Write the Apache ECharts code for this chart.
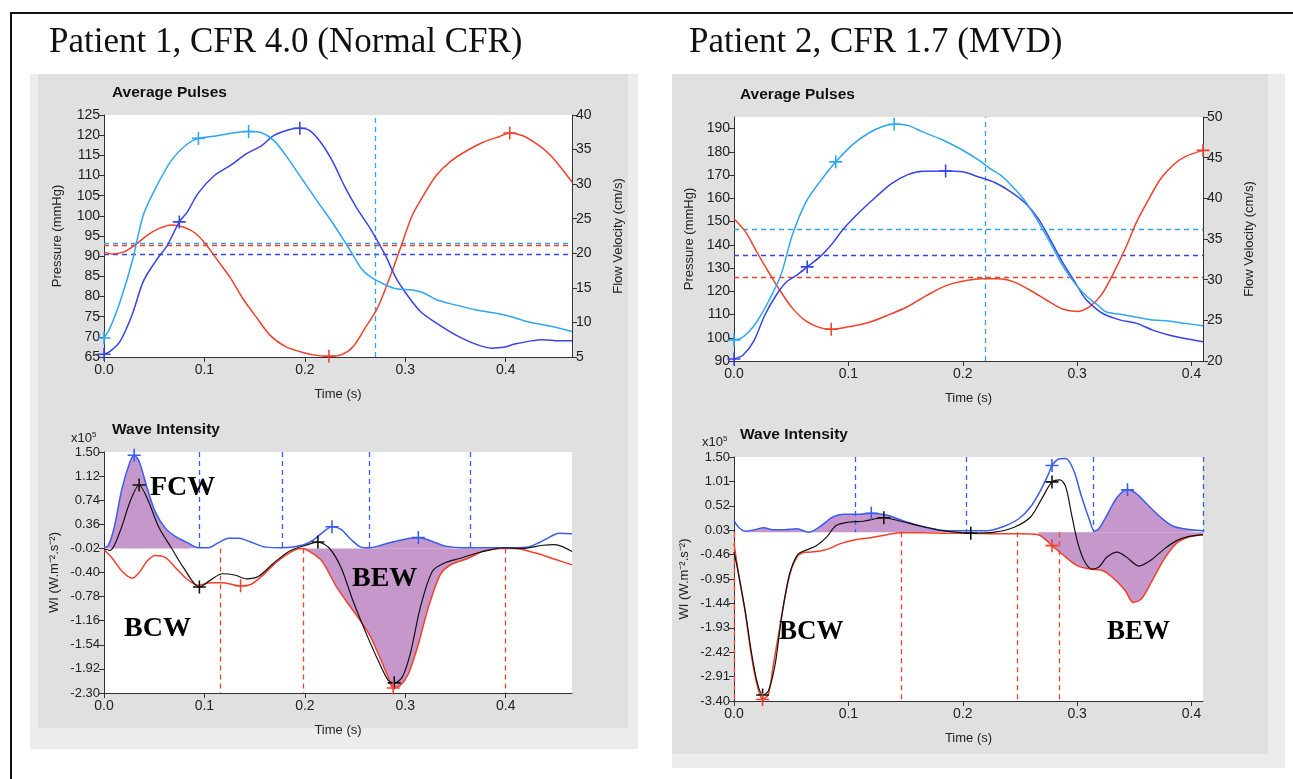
<!DOCTYPE html>
<html><head><meta charset="utf-8">
<script src="https://cdn.jsdelivr.net/npm/echarts@6/dist/echarts.min.js"></script>
<style>html,body{margin:0;padding:0;background:#fff}#c{width:1293px;height:779px}</style>
</head><body><div id="c"></div>
<script>
// ---------- Patient 1, Average Pulses (time s, value) ----------
const p1LightBlue = [[0,69.7],[0.006,72.2],[0.016,78.7],[0.028,88.6],[0.039,100.1],[0.051,106.7],[0.067,113.7],[0.083,117.8],[0.094,119.2],[0.114,119.9],[0.130,120.6],[0.144,120.9],[0.157,120.6],[0.169,118.7],[0.181,115],[0.197,109.2],[0.213,103.4],[0.228,98.1],[0.244,91.9],[0.256,87],[0.265,84.9],[0.280,82.9],[0.291,81.9],[0.307,81.6],[0.319,80.8],[0.331,79.2],[0.350,77.9],[0.370,76.7],[0.398,75.5],[0.421,73.8],[0.445,72.6],[0.466,71.3]];
const p1DarkBlue = [[0,65.7],[0.006,66.4],[0.016,68.9],[0.028,75.5],[0.039,83.7],[0.051,88.6],[0.063,92.7],[0.075,98.5],[0.083,101],[0.094,105.7],[0.110,110],[0.126,112.5],[0.142,115.4],[0.157,117.4],[0.169,119.9],[0.185,121.4],[0.195,121.7],[0.205,121.1],[0.217,117.8],[0.228,113.3],[0.240,107.1],[0.252,101.8],[0.265,96.9],[0.280,90.3],[0.291,84.5],[0.303,80],[0.315,76.3],[0.331,73.4],[0.350,70.5],[0.370,68.2],[0.386,67.2],[0.398,67.4],[0.409,68.2],[0.425,69.0],[0.437,69.3],[0.453,69.0],[0.466,69.0]];
const p1Red = [[0,20.2],[0.008,19.9],[0.020,20.2],[0.031,21.2],[0.043,22.6],[0.055,23.6],[0.067,24.1],[0.079,23.8],[0.091,22.9],[0.102,21.2],[0.114,18.8],[0.126,16.4],[0.138,13.5],[0.150,11.1],[0.165,8.2],[0.181,6.5],[0.197,5.7],[0.213,5.2],[0.224,5.1],[0.236,5.3],[0.248,6.5],[0.260,9.2],[0.272,12.0],[0.283,15.9],[0.295,20.7],[0.307,25.5],[0.319,28.6],[0.331,31.3],[0.346,33.4],[0.362,34.9],[0.378,36.1],[0.394,36.9],[0.404,37.4],[0.417,37.0],[0.433,35.6],[0.445,34.1],[0.457,32.0],[0.466,30.3]];
const p1LightBlueMarks = [[0,69.7],[0.094,119.2],[0.144,120.9]];
const p1DarkBlueMarks = [[0,65.7],[0.075,98.5],[0.195,121.7]];
const p1RedMarks = [[0.224,5.1],[0.404,37.4]];
const p1Means = {lightBlue:93.3, darkBlue:90.4, red:21.1};
const p1PulseCursor = 0.265;
const p1PressureTicks = [65,70,75,80,85,90,95,100,105,110,115,120,125];
const p1FlowTicks = [5,10,15,20,25,30,35,40];

// ---------- Patient 1, Wave Intensity (x10^5) ----------
const p1WiBlue = [[0,-0.01],[0.004,0.02],[0.010,0.30],[0.018,0.93],[0.026,1.35],[0.030,1.45],[0.035,1.35],[0.043,0.93],[0.051,0.56],[0.061,0.30],[0.071,0.17],[0.083,0.07],[0.094,-0.01],[0.104,-0.01],[0.114,0.07],[0.124,0.14],[0.134,0.14],[0.146,0.08],[0.161,0.0],[0.177,-0.01],[0.197,0.03],[0.209,0.12],[0.219,0.25],[0.227,0.32],[0.236,0.28],[0.246,0.12],[0.256,0.0],[0.264,-0.01],[0.280,0.05],[0.295,0.11],[0.313,0.15],[0.327,0.09],[0.339,0.02],[0.358,-0.01],[0.378,-0.01],[0.398,-0.01],[0.421,0.0],[0.433,0.07],[0.445,0.17],[0.453,0.22],[0.466,0.21]];
const p1WiRed = [[0,-0.04],[0.008,-0.17],[0.018,-0.38],[0.028,-0.49],[0.035,-0.40],[0.043,-0.22],[0.051,-0.13],[0.061,-0.16],[0.071,-0.32],[0.083,-0.51],[0.094,-0.60],[0.106,-0.56],[0.118,-0.56],[0.128,-0.59],[0.136,-0.61],[0.146,-0.59],[0.157,-0.46],[0.173,-0.22],[0.189,-0.05],[0.197,-0.02],[0.205,-0.07],[0.217,-0.22],[0.232,-0.64],[0.248,-1.00],[0.264,-1.37],[0.276,-1.79],[0.283,-2.05],[0.288,-2.22],[0.295,-2.18],[0.303,-2.00],[0.313,-1.53],[0.323,-0.95],[0.335,-0.43],[0.346,-0.27],[0.362,-0.18],[0.378,-0.06],[0.394,-0.02],[0.409,-0.02],[0.429,-0.09],[0.449,-0.19],[0.466,-0.28]];
const p1WiNet = [[0,-0.03],[0.006,-0.05],[0.016,0.25],[0.026,0.72],[0.035,0.98],[0.043,0.77],[0.055,0.30],[0.067,-0.01],[0.079,-0.32],[0.095,-0.63],[0.106,-0.52],[0.118,-0.42],[0.130,-0.44],[0.142,-0.50],[0.154,-0.46],[0.169,-0.25],[0.185,-0.06],[0.201,0.03],[0.213,0.08],[0.224,-0.01],[0.236,-0.32],[0.248,-0.85],[0.264,-1.47],[0.276,-1.89],[0.283,-2.10],[0.289,-2.14],[0.297,-2.05],[0.305,-1.68],[0.315,-0.95],[0.327,-0.38],[0.339,-0.25],[0.354,-0.18],[0.370,-0.10],[0.386,-0.04],[0.398,-0.01],[0.417,-0.02],[0.437,0.03],[0.449,0.04],[0.466,-0.07]];
const p1WiBlueMarks = [[0.030,1.45],[0.227,0.32],[0.313,0.15]];
const p1WiNetMarks = [[0.035,0.98],[0.095,-0.63],[0.213,0.08],[0.289,-2.14]];
const p1WiRedMarks = [[0.136,-0.61],[0.288,-2.22]];
const p1WiBase = -0.02;
const p1WiBlueCursors = [0.095,0.177,0.264,0.365];
const p1WiRedCursors = [0.116,0.198,0.400];
const p1WiTicks = [-2.30,-1.92,-1.54,-1.16,-0.78,-0.40,-0.02,0.36,0.74,1.12,1.50];
const p1TimeTicks = [0,0.1,0.2,0.3,0.4];

// ---------- Patient 2, Average Pulses ----------
const p2LightBlue = [[0,99.0],[0.006,99.7],[0.013,102.6],[0.020,106.9],[0.030,115.5],[0.041,127],[0.051,144.2],[0.063,158.5],[0.075,167.1],[0.089,175.7],[0.103,182.8],[0.117,187.9],[0.131,191.1],[0.140,191.9],[0.152,191.4],[0.165,188.6],[0.183,185.0],[0.200,180.7],[0.214,176.4],[0.224,172.8],[0.235,169.2],[0.245,164.2],[0.255,158.5],[0.266,149.9],[0.276,141.3],[0.287,131.3],[0.297,124.1],[0.307,118.4],[0.318,114.1],[0.325,111.2],[0.338,110.1],[0.352,108.8],[0.366,107.6],[0.380,107.2],[0.394,106.2],[0.410,105.2]];
const p2DarkBlue = [[0,90.9],[0.008,92.6],[0.017,98.3],[0.027,109.8],[0.037,118.4],[0.046,124.1],[0.055,127.0],[0.064,130.5],[0.075,134.8],[0.086,140.6],[0.096,147.0],[0.110,154.2],[0.124,160.6],[0.138,166.4],[0.152,170.2],[0.165,171.7],[0.185,171.8],[0.200,171.4],[0.214,169.2],[0.228,166.8],[0.242,162.8],[0.255,157.8],[0.266,151.3],[0.276,142.7],[0.287,132.7],[0.297,124.8],[0.307,116.9],[0.318,111.9],[0.325,109.8],[0.338,107.6],[0.352,106.2],[0.366,103.3],[0.380,101.2],[0.394,99.7],[0.410,98.3]];
const p2Red = [[0,37.5],[0.010,35.9],[0.020,33.4],[0.030,31.0],[0.041,28.5],[0.051,26.5],[0.063,24.9],[0.075,24.1],[0.085,23.9],[0.100,24.2],[0.117,24.7],[0.134,25.6],[0.152,26.7],[0.169,28.1],[0.186,29.3],[0.203,29.9],[0.217,30.1],[0.231,30.1],[0.245,29.7],[0.259,28.7],[0.273,27.5],[0.287,26.4],[0.300,26.1],[0.311,26.7],[0.321,28.1],[0.331,30.6],[0.342,33.8],[0.352,37.1],[0.363,40.0],[0.373,42.4],[0.384,44.1],[0.394,45.1],[0.410,45.9]];
const p2LightBlueMarks = [[0,99.0],[0.089,175.7],[0.140,191.9]];
const p2DarkBlueMarks = [[0,90.9],[0.064,130.5],[0.185,171.8]];
const p2RedMarks = [[0.085,23.9],[0.410,45.9]];
const p2Means = {lightBlue:146.9, darkBlue:135.3, red:30.3};
const p2PulseCursor = 0.2246;
const p2PressureTicks = [90,100,110,120,130,140,150,160,170,180,190];
const p2FlowTicks = [20,25,30,35,40,45,50];

// ---------- Patient 2, Wave Intensity (x10^5) ----------
const p2WiBlue = [[0,0.22],[0.004,0.09],[0.010,0.01],[0.018,0.04],[0.026,0.08],[0.034,0.04],[0.044,0.04],[0.055,0.06],[0.065,-0.01],[0.075,0.10],[0.086,0.29],[0.096,0.35],[0.110,0.35],[0.120,0.37],[0.134,0.33],[0.152,0.19],[0.169,0.08],[0.186,0.02],[0.203,0.02],[0.221,0.02],[0.235,0.10],[0.249,0.26],[0.259,0.49],[0.268,0.83],[0.275,1.16],[0.278,1.33],[0.283,1.45],[0.290,1.47],[0.297,1.23],[0.304,0.69],[0.311,0.22],[0.315,0.01],[0.319,0.06],[0.326,0.33],[0.335,0.69],[0.344,0.84],[0.352,0.76],[0.362,0.53],[0.373,0.29],[0.383,0.12],[0.393,0.06],[0.410,0.02]];
const p2WiRed = [[0,-0.24],[0.004,-0.85],[0.010,-1.65],[0.015,-2.46],[0.020,-3.06],[0.025,-3.37],[0.030,-3.27],[0.034,-2.73],[0.041,-1.79],[0.048,-0.92],[0.055,-0.51],[0.061,-0.42],[0.072,-0.40],[0.082,-0.35],[0.093,-0.24],[0.106,-0.16],[0.120,-0.12],[0.134,-0.06],[0.146,-0.02],[0.165,-0.02],[0.186,-0.03],[0.207,-0.03],[0.228,-0.04],[0.249,-0.04],[0.266,-0.06],[0.278,-0.28],[0.290,-0.51],[0.300,-0.68],[0.311,-0.75],[0.321,-0.77],[0.331,-0.92],[0.342,-1.18],[0.349,-1.42],[0.356,-1.35],[0.364,-1.05],[0.376,-0.55],[0.387,-0.23],[0.397,-0.11],[0.410,-0.06]];
const p2WiNet = [[0,-0.41],[0.004,-0.85],[0.010,-1.62],[0.015,-2.39],[0.020,-3.0],[0.025,-3.28],[0.030,-3.20],[0.036,-2.66],[0.042,-1.65],[0.049,-0.82],[0.056,-0.45],[0.063,-0.37],[0.072,-0.28],[0.081,-0.11],[0.089,0.12],[0.100,0.19],[0.113,0.21],[0.131,0.28],[0.144,0.22],[0.162,0.12],[0.182,0.02],[0.207,-0.03],[0.228,-0.01],[0.245,0.09],[0.259,0.29],[0.269,0.66],[0.278,1.0],[0.285,1.04],[0.290,0.90],[0.295,0.36],[0.300,-0.18],[0.306,-0.58],[0.313,-0.75],[0.319,-0.71],[0.326,-0.51],[0.335,-0.41],[0.343,-0.51],[0.354,-0.69],[0.364,-0.58],[0.376,-0.35],[0.387,-0.18],[0.397,-0.10],[0.410,-0.06]];
const p2WiBlueMarks = [[0.120,0.37],[0.278,1.33],[0.344,0.84]];
const p2WiNetMarks = [[0.025,-3.28],[0.131,0.28],[0.207,-0.03],[0.278,1.0]];
const p2WiRedMarks = [[0.025,-3.37],[0.278,-0.28]];
const p2WiBase = -0.01;
const p2WiBlueCursors = [0.106,0.203,0.314,0.410];
const p2WiRedCursors = [0,0.146,0.248,0.284];
const p2WiTicks = [-3.40,-2.91,-2.42,-1.93,-1.44,-0.95,-0.46,0.03,0.52,1.01,1.50];
const p2TimeTicks = [0,0.1,0.2,0.3,0.4];

// ---------- styling ----------
const SANS = '"Liberation Sans", Arial, Helvetica, sans-serif';
const SERIF = '"Liberation Serif", "Times New Roman", serif';
const LB = '#2ea6f2', DB = '#3744e6', RD = '#f2402b', WB = '#3a5cf2', BK = '#111111', PU = '#c597ca';
const PLUS = 'path://M4.4,0H5.6V4.4H10V5.6H5.6V10H4.4V5.6H0V4.4H4.4Z';
const AX = '#333';

const chart = echarts.init(document.getElementById('c'), null, {renderer:'canvas'});

function xAxis(gi, max, ticks) {
  return {type:'value', gridIndex:gi, min:0, max:max, name:'Time (s)', nameLocation:'middle', nameGap:31,
    nameTextStyle:{fontFamily:SANS, fontSize:13, color:'#222'},
    axisLine:{show:true, onZero:false, lineStyle:{color:AX, width:1}},
    axisTick:{show:true, customValues:ticks, length:5, lineStyle:{color:AX}},
    axisLabel:{customValues:ticks, formatter:v=>v.toFixed(1), fontFamily:SANS, fontSize:14, color:'#222', margin:6},
    splitLine:{show:false}};
}
function yAxis(gi, min, max, ticks, name, pos, gap, dec) {
  return {type:'value', gridIndex:gi, min:min, max:max, position:pos, name:name, nameLocation:'middle', nameGap:gap,
    nameTextStyle:{fontFamily:SANS, fontSize:13, color:'#222'},
    axisLine:{show:true, onZero:false, lineStyle:{color:AX, width:1}},
    axisTick:{show:true, customValues:ticks, length:5, lineStyle:{color:AX}},
    axisLabel:{customValues:ticks, formatter:v=>v.toFixed(dec), fontFamily:SANS, fontSize:dec?13:14, color:'#222', margin:4},
    splitLine:{show:false}};
}
function line(xi, yi, data, color, extra) {
  return Object.assign({type:'line', xAxisIndex:xi, yAxisIndex:yi, data:data, showSymbol:false, symbol:'none',
    smooth:0.3, lineStyle:{color:color, width:1.5}, itemStyle:{color:color}, z:5, silent:true, animation:false}, extra||{});
}
function marks(xi, yi, data, color) {
  return {type:'scatter', xAxisIndex:xi, yAxisIndex:yi, data:data, symbol:PLUS, symbolSize:13,
    itemStyle:{color:color, opacity:1}, z:8, silent:true, animation:false};
}
function fill(xi, yi, data, base, from, to) {
  return {type:'line', xAxisIndex:xi, yAxisIndex:yi, data:data.filter(d=>d[0]>=from && d[0]<=to),
    showSymbol:false, symbol:'none', smooth:0.3, lineStyle:{width:0, opacity:0},
    areaStyle:{color:PU, opacity:1, origin:base}, z:2, silent:true, animation:false};
}
function hMean(value, color) {
  return {silent:true, symbol:'none', label:{show:false}, animation:false,
    lineStyle:{color:color, type:[5,4], width:1.3}, data:[{yAxis:value}]};
}
function vCursorsML(blue, red, top, base, bottom) {
  const d = [];
  blue.forEach(t=>d.push([{coord:[t,top], lineStyle:{color:WB}}, {coord:[t,base]}]));
  red.forEach(t=>d.push([{coord:[t,base], lineStyle:{color:RD}}, {coord:[t,bottom]}]));
  return {silent:true, symbol:'none', label:{show:false}, animation:false,
    lineStyle:{type:[5,4], width:1.3}, data:d};
}

const option = {
  backgroundColor:'#ffffff',
  animation:false,
  grid:[
    {left:104, top:115, width:468, height:242, show:true, backgroundColor:'#fff', borderWidth:0, containLabel:false},
    {left:104, top:452, width:468, height:241, show:true, backgroundColor:'#fff', borderWidth:0},
    {left:734, top:117, width:469, height:244, show:true, backgroundColor:'#fff', borderWidth:0},
    {left:734, top:457, width:469, height:244, show:true, backgroundColor:'#fff', borderWidth:0}
  ],
  xAxis:[xAxis(0,0.466,p1TimeTicks), xAxis(1,0.466,p1TimeTicks), xAxis(2,0.41,p2TimeTicks), xAxis(3,0.41,p2TimeTicks)],
  yAxis:[
    yAxis(0,65,125,p1PressureTicks,'Pressure (mmHg)','left',40,0),
    yAxis(0,5,40,p1FlowTicks,'Flow Velocity (cm/s)','right',40,0),
    yAxis(1,-2.30,1.50,p1WiTicks,'WI (W.m⁻².s⁻²)','left',43,2),
    yAxis(2,90,195,p2PressureTicks,'Pressure (mmHg)','left',38,0),
    yAxis(2,20,50,p2FlowTicks,'Flow Velocity (cm/s)','right',40,0),
    yAxis(3,-3.40,1.50,p2WiTicks,'WI (W.m⁻².s⁻²)','left',43,2)
  ],
  series:[
    // Patient 1 pulses
    line(0,1,p1Red,RD,{markLine:hMean(p1Means.red,RD)}),
    line(0,0,p1DarkBlue,DB,{markLine:hMean(p1Means.darkBlue,DB)}),
    line(0,0,p1LightBlue,LB,{markLine:{silent:true, symbol:'none', label:{show:false}, animation:false,
      lineStyle:{color:LB, type:[5,4], width:1.3}, data:[{yAxis:p1Means.lightBlue},{xAxis:p1PulseCursor}]}}),
    marks(0,0,p1LightBlueMarks,LB), marks(0,0,p1DarkBlueMarks,DB), marks(0,1,p1RedMarks,RD),
    // Patient 1 wave intensity
    fill(1,2,p1WiBlue,p1WiBase,0,0.095),
    fill(1,2,p1WiBlue,p1WiBase,0.256,0.36),
    fill(1,2,p1WiRed,p1WiBase,0.197,0.40),
    line(1,2,p1WiRed,RD,{markLine:vCursorsML(p1WiBlueCursors,p1WiRedCursors,1.50,p1WiBase,-2.30)}),
    line(1,2,p1WiBlue,WB),
    line(1,2,p1WiNet,BK,{lineStyle:{color:BK,width:1.2}}),
    marks(1,2,p1WiBlueMarks,WB), marks(1,2,p1WiNetMarks,BK), marks(1,2,p1WiRedMarks,RD),
    // Patient 2 pulses
    line(2,4,p2Red,RD,{markLine:hMean(p2Means.red,RD)}),
    line(2,3,p2DarkBlue,DB,{markLine:hMean(p2Means.darkBlue,DB)}),
    line(2,3,p2LightBlue,LB,{markLine:{silent:true, symbol:'none', label:{show:false}, animation:false,
      lineStyle:{color:LB, type:[5,4], width:1.3}, data:[{yAxis:p2Means.lightBlue},{xAxis:p2PulseCursor}]}}),
    marks(2,3,p2LightBlueMarks,LB), marks(2,3,p2DarkBlueMarks,DB), marks(2,4,p2RedMarks,RD),
    // Patient 2 wave intensity
    fill(3,5,p2WiBlue,p2WiBase,0.010,0.203),
    fill(3,5,p2WiBlue,p2WiBase,0.315,0.41),
    fill(3,5,p2WiRed,p2WiBase,0.266,0.41),
    line(3,5,p2WiRed,RD,{markLine:vCursorsML(p2WiBlueCursors,p2WiRedCursors,1.50,p2WiBase,-3.40)}),
    line(3,5,p2WiBlue,WB),
    line(3,5,p2WiNet,BK,{lineStyle:{color:BK,width:1.2}}),
    marks(3,5,p2WiBlueMarks,WB), marks(3,5,p2WiNetMarks,BK), marks(3,5,p2WiRedMarks,RD)
  ],
  graphic:[
    {type:'rect', z:-20, shape:{x:30,y:74,width:608,height:675}, style:{fill:'#ececec'}},
    {type:'rect', z:-19, shape:{x:38,y:74,width:590,height:654}, style:{fill:'#e0e0e0'}},
    {type:'rect', z:-20, shape:{x:672,y:74,width:613,height:694}, style:{fill:'#ececec'}},
    {type:'rect', z:-19, shape:{x:672,y:74,width:596,height:680}, style:{fill:'#e0e0e0'}},
    {type:'rect', z:50, shape:{x:11,y:13,width:1292,height:780}, style:{fill:null, stroke:'#111', lineWidth:2}},
    {type:'text', z:50, left:49, top:25, style:{text:'Patient 1, CFR 4.0 (Normal CFR)', font:'35px '+SERIF, fill:'#111'}},
    {type:'text', z:50, left:689, top:25, style:{text:'Patient 2, CFR 1.7 (MVD)', font:'35px '+SERIF, fill:'#111'}},
    {type:'text', z:50, left:112, top:85, style:{text:'Average Pulses', font:'bold 15.5px '+SANS, fill:'#111'}},
    {type:'text', z:50, left:740, top:87, style:{text:'Average Pulses', font:'bold 15.5px '+SANS, fill:'#111'}},
    {type:'text', z:50, left:112, top:422, style:{text:'Wave Intensity', font:'bold 15.5px '+SANS, fill:'#111'}},
    {type:'text', z:50, left:740, top:427, style:{text:'Wave Intensity', font:'bold 15.5px '+SANS, fill:'#111'}},
    {type:'text', z:50, left:71, top:431, style:{text:'{a|x10}{b|5}', rich:{a:{font:'13px '+SANS, fill:'#222'}, b:{font:'8px '+SANS, fill:'#222', verticalAlign:'top', padding:[0,0,6,0]}}}},
    {type:'text', z:50, left:702, top:435, style:{text:'{a|x10}{b|5}', rich:{a:{font:'13px '+SANS, fill:'#222'}, b:{font:'8px '+SANS, fill:'#222', verticalAlign:'top', padding:[0,0,6,0]}}}},
    {type:'text', z:60, left:150, top:474, style:{text:'FCW', font:'bold 28px '+SERIF, fill:'#000'}},
    {type:'text', z:60, left:124, top:615, style:{text:'BCW', font:'bold 28px '+SERIF, fill:'#000'}},
    {type:'text', z:60, left:352, top:565, style:{text:'BEW', font:'bold 28px '+SERIF, fill:'#000'}},
    {type:'text', z:60, left:779, top:619, style:{text:'BCW', font:'bold 27px '+SERIF, fill:'#000'}},
    {type:'text', z:60, left:1107, top:619, style:{text:'BEW', font:'bold 27px '+SERIF, fill:'#000'}}
  ]
};
chart.setOption(option);
</script></body></html>
